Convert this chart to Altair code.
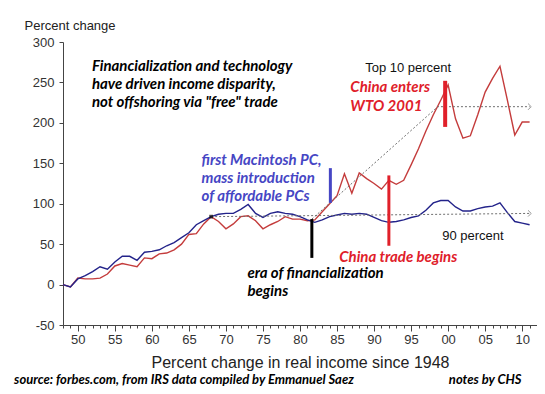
import altair as alt
import pandas as pd

years = list(range(1948, 2012))
top10 = [0, -3,
         8, 7, 7, 8, 13, 23, 26, 24, 22, 33,
         32, 38, 39, 43, 50, 62, 63, 75, 84, 78,
         69, 75, 84, 85, 79, 69, 74, 78, 84, 81,
         81, 79, 80, 90, 100, 110, 137, 113, 138, 131,
         125, 118, 129, 124, 129, 148, 168, 190, 210, 228,
         247, 205, 181, 184, 210, 238, 255, 270, 228, 185, 201, 201]
p90 = [0, -3,
       7, 11, 16, 22, 19, 28, 35, 35, 30, 40,
       41, 43, 48, 52, 58, 64, 74, 79, 84, 87,
       88, 88, 93, 99, 88, 83, 88, 90, 88, 87,
       84, 80, 77, 80, 84, 86, 88, 87, 88, 87,
       83, 79, 77, 78, 80, 83, 85, 92, 101, 104,
       104, 96, 91, 91, 94, 96, 97, 101, 89, 78, 76, 74]
series_names = ["Top 10 percent", "90 percent"]
series_colors = ["#c43c3c", "#23238a"]

y_ticks = [-50, 0, 50, 100, 150, 200, 250, 300]
x_major = list(range(1950, 2011, 5))

# annotation texts: text, year, value, colour
ann_text = ["Financialization and technology", "have driven income disparity,",
            "not offshoring via \"free\" trade",
            "China enters", "WTO 2001",
            "first Macintosh PC,", "mass introduction", "of affordable PCs",
            "era of financialization", "begins",
            "China trade begins"]
ann_year = [1951.9, 1951.9, 1951.9, 1986.8, 1986.8, 1966.7, 1966.7, 1966.7,
            1972.9, 1972.9, 1985.3]
ann_value = [270.3, 248.1, 225.8, 244.4, 220.9, 154.1, 131.8, 109.6, 14.3, -7.9, 34.1]
ann_color = ["#000000"] * 3 + ["#e0202a"] * 2 + ["#4646c4"] * 3 + ["#000000"] * 2 + ["#e0202a"]

label_text = ["Top 10 percent", "90 percent"]
label_year = [1988.8, 1999.2]
label_value = [267.9, 60.1]

foot_text = ["source: forbes.com, from IRS data compiled by Emmanuel Saez", "notes by CHS"]
foot_year = [1941.4, 2000.1]
foot_value = [-118.5, -118.5]

bar_year = [1999.6, 1984.1, 1981.6, 1992.0]
bar_lo = [195, 101, 33, 48]
bar_hi = [252, 144, 81, 135]
bar_color = ["#e0202a", "#4646c4", "#000000", "#e0202a"]
bar_width = [4, 3, 3, 3]

trend_group = ["a", "a", "b", "b", "b"]
trend_order = [0, 1, 0, 1, 2]
trend_year = [1968, 2011, 1981.6, 1998.6, 2011]
trend_value = [84, 88, 81, 220, 220]

arrow_year = [2011, 2011]
arrow_value = [88, 220]

df = pd.DataFrame({
    "year": years * 2,
    "value": top10 + p90,
    "series": [series_names[0]] * len(years) + [series_names[1]] * len(years),
})
ann = pd.DataFrame({"text": ann_text, "year": ann_year, "value": ann_value, "color": ann_color})
labels = pd.DataFrame({"text": label_text, "year": label_year, "value": label_value})
foot = pd.DataFrame({"text": foot_text, "year": foot_year, "value": foot_value})
bars = pd.DataFrame({"year": bar_year, "value": bar_lo, "hi": bar_hi, "color": bar_color, "w": bar_width})
trend = pd.DataFrame({"g": trend_group, "o": trend_order, "year": trend_year, "value": trend_value})
arrows = pd.DataFrame({"year": arrow_year, "value": arrow_value})
dot = pd.DataFrame({"year": [1968], "value": [84]})
minor = pd.DataFrame({"year": years})

xs = alt.Scale(domain=[1948, 2012], nice=False, zero=False)
ys = alt.Scale(domain=[-50, 300], nice=False, zero=False)

x_axis = alt.Axis(values=x_major, labelExpr="substring(toString(datum.value), 2, 4)",
                  title="Percent change in real income since 1948", grid=False, orient="bottom",
                  labelFlush=False, tickSize=6, labelPadding=2, titlePadding=8, titleFontSize=16)
x_minor_axis = alt.Axis(values=years, labels=False, domain=False, grid=False, title=None,
                        orient="bottom", tickSize=3)
y_axis = alt.Axis(values=y_ticks, labelExpr="toString(datum.value)", title="Percent change", grid=False,
                  titleAngle=0, titleAlign="left", titleBaseline="alphabetic", titleX=-39, titleY=-13,
                  titleFontSize=13, tickSize=4, labelPadding=5)

X = alt.X("year:Q", scale=xs, axis=x_axis)
Y = alt.Y("value:Q", scale=ys, axis=y_axis)
XN = alt.X("year:Q", scale=xs, axis=None)
Y0 = alt.Y("value:Q", scale=ys)

lines = alt.Chart(df).mark_line(strokeWidth=1.4).encode(
    x=X, y=Y,
    color=alt.Color("series:N", scale=alt.Scale(domain=series_names, range=series_colors), legend=None),
)

minor_ticks = alt.Chart(minor).mark_point(opacity=0).encode(
    x=alt.X("year:Q", scale=xs, axis=x_minor_axis), y=alt.value(0))

trend_lines = alt.Chart(trend).mark_line(strokeWidth=1, strokeDash=[2, 2], color="#707070").encode(
    x=XN, y=Y0, detail="g:N", order="o:Q")

arrow_pts = alt.Chart(arrows).mark_point(shape="M-0.5,-1L0.5,0L-0.5,1", filled=False, size=40,
                                         color="#707070", strokeWidth=1).encode(x=XN, y=Y0)

dot_pt = alt.Chart(dot).mark_square(size=14, color="#000000").encode(x=XN, y=Y0)

bar_rules = alt.Chart(bars).mark_rule().encode(
    x=XN, y=Y0, y2="hi:Q",
    color=alt.Color("color:N", scale=None), strokeWidth=alt.StrokeWidth("w:Q", scale=None))

ann_marks = alt.Chart(ann).mark_text(font="Lato", fontWeight="bold", fontStyle="italic", fontSize=15,
                                     align="left", baseline="middle").encode(
    x=XN, y=Y0, text="text:N", color=alt.Color("color:N", scale=None))

label_marks = alt.Chart(labels).mark_text(font="Liberation Sans", fontSize=13, align="left",
                                          baseline="middle", color="#111111").encode(
    x=XN, y=Y0, text="text:N")

foot_marks = alt.Chart(foot).mark_text(font="Lato", fontWeight="bold", fontStyle="italic", fontSize=13,
                                       align="left", baseline="middle", color="#000000").encode(
    x=XN, y=Y0, text="text:N")

chart = alt.layer(lines, minor_ticks, trend_lines, arrow_pts, bar_rules, dot_pt, ann_marks,
                  label_marks, foot_marks).resolve_axis(x="independent").properties(
    width=474, height=283,
    padding={"left": 55, "top": 34, "right": 0, "bottom": 61},
    autosize=alt.AutoSizeParams(type="none"),
    background="white",
).configure_view(stroke=None).configure_axis(
    domainColor="#444444", tickColor="#444444", labelColor="#333333",
    labelFont="Liberation Sans", labelFontSize=13,
    titleFont="Liberation Sans", titleFontWeight="normal", titleColor="#222222",
)

chart.save("out.html", embed_options={"renderer": "svg", "actions": False})
